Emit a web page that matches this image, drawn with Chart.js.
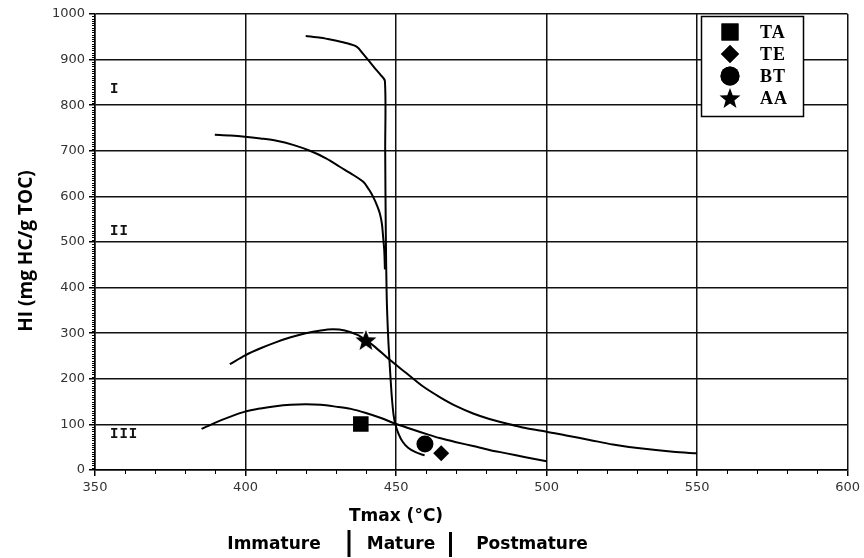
<!DOCTYPE html>
<html>
<head>
<meta charset="utf-8">
<script src="https://cdn.jsdelivr.net/npm/chart.js@4/dist/chart.umd.min.js"></script>
<style>
  html, body { margin: 0; padding: 0; background: #fff; }
  #wrap { width: 864px; height: 558px; position: relative; }
</style>
</head>
<body>
<div id="wrap"><canvas id="hiChart"></canvas></div>
<script>
// kerogen type curves (Tmax in °C, HI in mg HC/g TOC)
const typeIX = [420, 425, 429, 433, 437, 439, 441, 443, 444.8, 446.3, 446.4, 446.6, 446.9, 447.4, 448, 448.6, 449.2, 449.8, 450.8, 452.2, 454, 456.5, 459.5];
const typeIY = [952, 948, 943, 937, 928, 913, 897, 881, 867, 853, 700, 520, 380, 290, 220, 160, 120, 100, 80, 62, 49, 39, 32];

const typeIIX = [389.8, 395, 399.8, 405, 410.3, 415.8, 421.4, 426.9, 431.3, 435.8, 439.1, 441, 442.4, 443.7, 444.6, 445.3, 445.7, 446.1, 446.3];
const typeIIY = [735, 733.5, 731, 727, 722, 713, 700, 683, 665, 647, 632, 615, 599, 580, 563, 540, 512, 480, 440];

const typeIIIaX = [394.8, 400, 405, 410, 415, 420, 425, 429, 433, 437, 440, 443, 448, 453.5, 459, 464.5, 470, 475.6, 481, 486.7, 493, 500, 507, 514.3, 522, 531, 542, 550];
const typeIIIaY = [232, 252, 267, 280, 291, 300, 306, 308.5, 306, 297, 285, 270, 241, 212, 183, 160, 140, 124, 112, 102, 92, 84, 75, 66, 56, 47.5, 40, 36.5];

const typeIIIbX = [385.4, 390, 395, 399.8, 405, 410, 415, 420, 425, 430, 435, 440, 445, 449.6, 455, 461, 464.5, 470, 475.6, 481, 486.7, 493, 500];
const typeIIIbY = [90, 104, 117, 128, 135, 140, 143, 144, 143, 139, 134, 125, 114, 102, 90, 77, 70, 61, 52.5, 44, 36.5, 28, 19];

// samples
const sampleNames = ['TA', 'TE', 'BT', 'AA'];
const sampleTmax = [438.3, 465, 459.6, 440];
const sampleHI = [101, 37, 57, 285];

// kerogen type labels inside the plot
const typeLabels = ['I', 'II', 'III'];
const typeLabelTmax = [355, 355, 355];
const typeLabelHI = [835, 523, 79];

const xTicks = [350, 400, 450, 500, 550, 600];
const yTicks = [0, 100, 200, 300, 400, 500, 600, 700, 800, 900, 1000];
const maturityZones = ['Immature', 'Mature', 'Postmature'];

function toPoints(xs, ys) {
  return xs.map((v, i) => ({ x: v, y: ys[i] }));
}

// filled star with a white rim (cuts the curve under it like in the source figure)
function makeStar(size) {
  const c = document.createElement('canvas');
  c.width = size; c.height = size;
  const g = c.getContext('2d');
  const cx = size / 2, cy = size / 2 + 1, R = size / 2 - 2, r = R * 0.42;
  g.beginPath();
  for (let i = 0; i < 10; i++) {
    const a = -Math.PI / 2 + i * Math.PI / 5;
    const rad = i % 2 ? r : R;
    g.lineTo(cx + rad * Math.cos(a), cy + rad * Math.sin(a));
  }
  g.closePath();
  g.lineJoin = 'round';
  g.lineWidth = 3;
  g.strokeStyle = '#fff';
  g.stroke();
  g.fillStyle = '#000';
  g.fill();
  return c;
}
const starImg = makeStar(26);

const sampleStyles = ['rect', 'rectRot', 'circle', starImg];
const sampleRadius = [11, 8, 8.5, 11];

const curve = (label, xs, ys) => ({
  label,
  data: toPoints(xs, ys),
  showLine: true,
  borderColor: '#000',
  borderWidth: 2,
  pointRadius: 0,
  tension: 0.3,
  isCurve: true,
});

const datasets = [
  curve('Type I', typeIX, typeIY),
  curve('Type II', typeIIX, typeIIY),
  curve('Type III a', typeIIIaX, typeIIIaY),
  curve('Type III b', typeIIIbX, typeIIIbY),
];
sampleNames.forEach((name, i) => {
  datasets.push({
    label: name,
    data: [{ x: sampleTmax[i], y: sampleHI[i] }],
    pointStyle: sampleStyles[i],
    pointRadius: sampleRadius[i],
    pointBackgroundColor: '#000',
    pointBorderColor: '#000',
    pointBorderWidth: 0,
  });
});

const overlay = {
  id: 'overlay',
  afterDraw(chart) {
    const { ctx, chartArea: ca } = chart;
    const x = chart.scales.x, y = chart.scales.y;
    ctx.save();

    // minor ticks
    ctx.strokeStyle = '#000';
    ctx.lineWidth = 1;
    for (let v = 360; v < 600; v += 10) {
      if (v % 50 === 0) continue;
      const px = Math.round(x.getPixelForValue(v)) + 0.5;
      ctx.beginPath();
      ctx.moveTo(px, ca.bottom);
      ctx.lineTo(px, ca.bottom + 4);
      ctx.stroke();
    }
    for (let v = 5; v < 1000; v += 5) {
      if (v % 100 === 0) continue;
      const py = Math.round(y.getPixelForValue(v)) + 0.5;
      ctx.beginPath();
      ctx.moveTo(ca.left - 3, py);
      ctx.lineTo(ca.left, py);
      ctx.stroke();
    }

    // kerogen type labels
    ctx.fillStyle = '#111';
    ctx.font = 'bold 14px "Liberation Mono"';
    ctx.letterSpacing = '1px';
    ctx.textAlign = 'left';
    ctx.textBaseline = 'middle';
    typeLabels.forEach((t, i) => {
      ctx.fillText(t, x.getPixelForValue(typeLabelTmax[i]), y.getPixelForValue(typeLabelHI[i]));
    });
    ctx.letterSpacing = '0px';

    // legend box
    const bx = 701.5, by = 16.5, bw = 102, bh = 100;
    ctx.fillStyle = '#fff';
    ctx.fillRect(bx, by, bw, bh);
    ctx.strokeStyle = '#000';
    ctx.lineWidth = 1.5;
    ctx.strokeRect(bx, by, bw, bh);
    const rowY = [32, 54, 76, 98];
    const samples = chart.data.datasets.filter(d => !d.isCurve);
    samples.forEach((d, i) => {
      const mx = 730, my = rowY[i];
      if (d.pointStyle instanceof HTMLCanvasElement) {
        ctx.drawImage(d.pointStyle, mx - d.pointStyle.width / 2, my - d.pointStyle.height / 2);
      } else {
        ctx.fillStyle = '#000';
        Chart.helpers.drawPoint(ctx, {
          pointStyle: d.pointStyle,
          radius: d.pointRadius + 1,
          borderWidth: 0,
          rotation: 0,
        }, mx, my);
        ctx.fill();
      }
      ctx.fillStyle = '#000';
      ctx.font = 'bold 18px "Liberation Serif"';
      ctx.letterSpacing = '1px';
      ctx.textAlign = 'left';
      ctx.textBaseline = 'alphabetic';
      ctx.fillText(d.label, 760, my + 6);
      ctx.letterSpacing = '0px';
    });

    // axis titles
    ctx.fillStyle = '#000';
    ctx.textAlign = 'center';
    ctx.textBaseline = 'alphabetic';
    ctx.font = 'bold 17px "DejaVu Sans"';
    ctx.fillText('Tmax (°C)', x.getPixelForValue(450), 520.5);

    ctx.save();
    ctx.translate(32, 251);
    ctx.rotate(-Math.PI / 2);
    ctx.font = 'bold 19px "Open Sans"';
    ctx.fillText('HI (mg HC/g TOC)', 0, 0);
    ctx.restore();

    // maturity zones
    ctx.font = 'bold 17px "DejaVu Sans"';
    const zoneX = [274, 401, 532];
    maturityZones.forEach((z, i) => ctx.fillText(z, zoneX[i], 549));
    ctx.lineWidth = 3;
    ctx.beginPath();
    ctx.moveTo(349, 530); ctx.lineTo(349, 557);
    ctx.moveTo(450.5, 532); ctx.lineTo(450.5, 557);
    ctx.stroke();

    ctx.restore();
  },
};

const tickFont = { family: 'DejaVu Sans', size: 13 };

new Chart(document.getElementById('hiChart'), {
  type: 'scatter',
  data: { datasets },
  options: {
    responsive: true,
    maintainAspectRatio: false,
    animation: false,
    layout: { padding: { top: 14, right: 16, left: 0, bottom: 0 } },
    plugins: {
      legend: { display: false },
      tooltip: { enabled: false },
    },
    scales: {
      x: {
        type: 'linear',
        min: xTicks[0],
        max: xTicks[xTicks.length - 1],
        afterBuildTicks: (s) => { s.ticks = xTicks.map(v => ({ value: v })); },
        afterFit: (s) => { s.height = 88; },
        ticks: { font: tickFont, color: '#333', padding: 4, maxRotation: 0, callback: (v) => String(v) },
        grid: { color: '#111', lineWidth: 1.5, tickLength: 6, tickColor: '#000' },
        border: { color: '#000', width: 1.5 },
      },
      y: {
        type: 'linear',
        min: yTicks[0],
        max: yTicks[yTicks.length - 1],
        afterBuildTicks: (s) => { s.ticks = yTicks.map(v => ({ value: v })); },
        afterFit: (s) => { s.width = 95; },
        ticks: { font: tickFont, color: '#333', padding: 4, callback: (v) => String(v) },
        grid: { color: '#111', lineWidth: 1.5, tickLength: 6, tickColor: '#000' },
        border: { color: '#000', width: 1.5 },
      },
    },
  },
  plugins: [overlay],
});
</script>
</body>
</html>
